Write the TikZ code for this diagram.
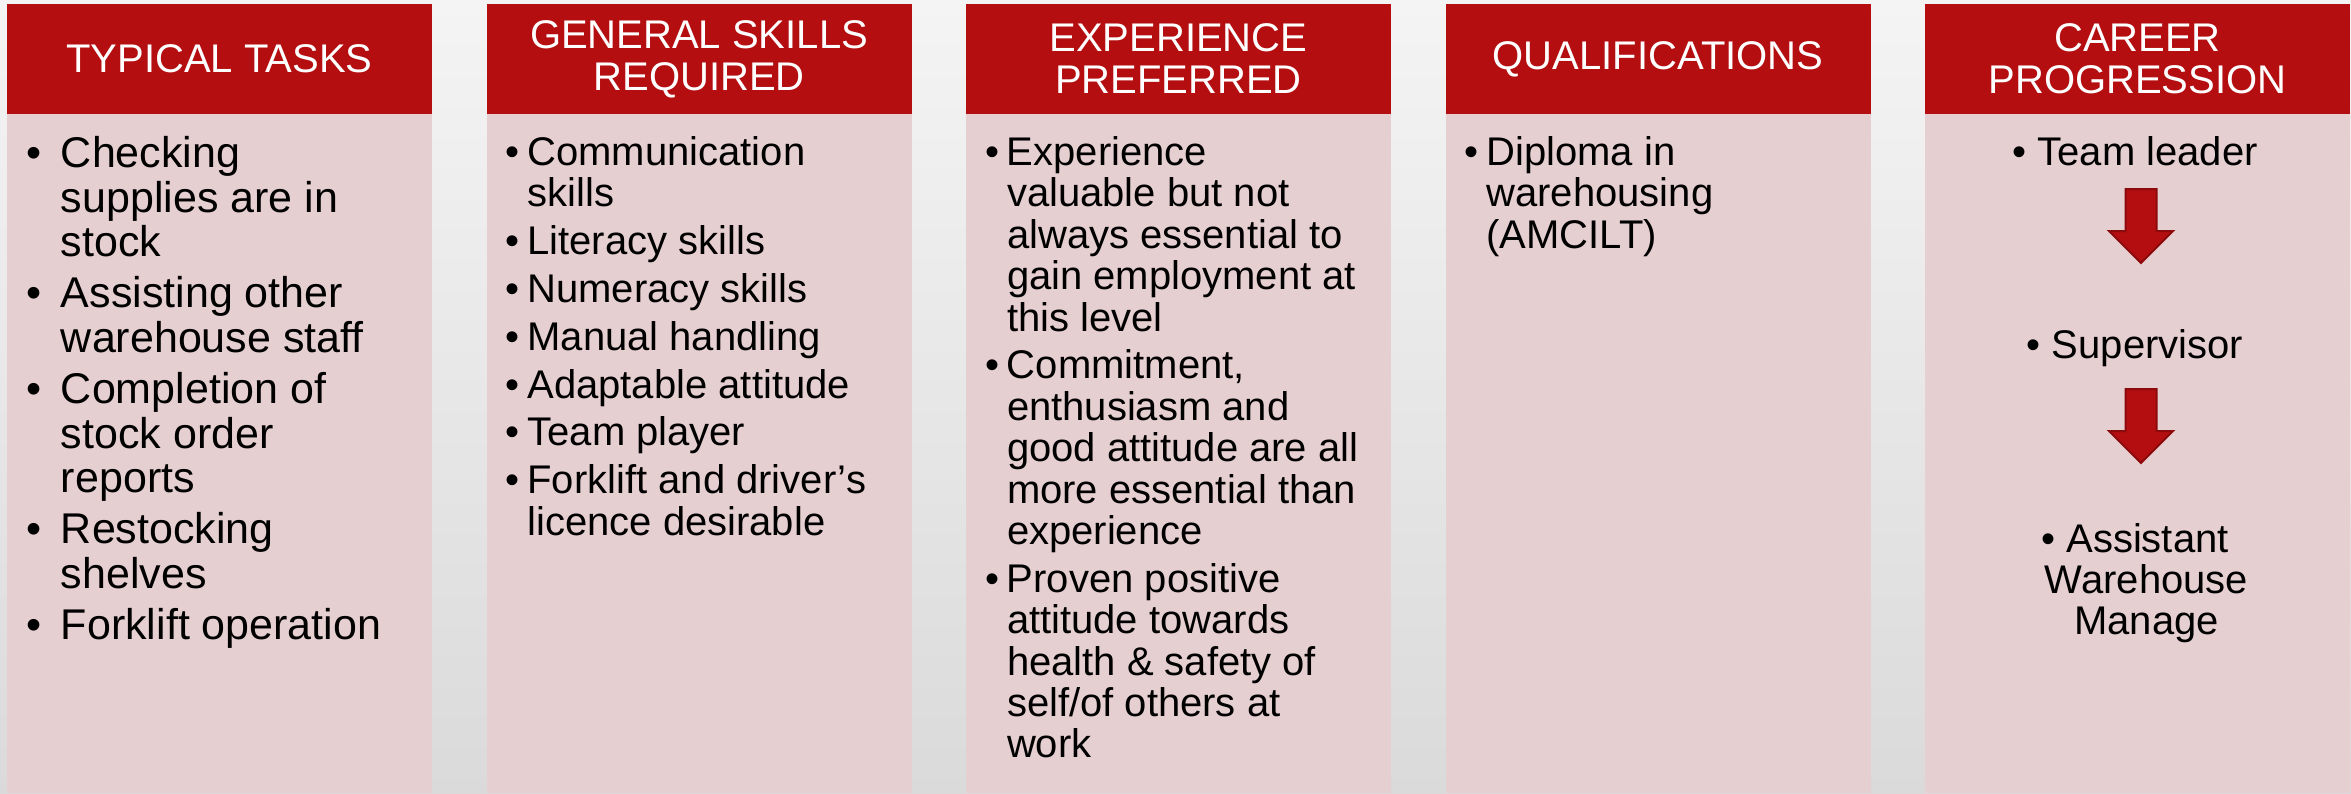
\documentclass[tikz,border=0pt]{standalone}
\usepackage{fontspec}
\setmainfont{Liberation Sans}
\usetikzlibrary{positioning}
\definecolor{hRed}{HTML}{B40E11}
\definecolor{aRed}{HTML}{8C0A0C}
\definecolor{bPink}{HTML}{E6CFD0}
\definecolor{bgTop}{HTML}{F4F4F4}
\definecolor{bgBot}{HTML}{DADADA}
\newcommand{\hdfont}{\fontsize{40}{42}\selectfont}
\newcommand{\txfont}{\fontsize{40}{41.4}\selectfont}
\newcommand{\bigtxfont}{\fontsize{43}{44.3}\selectfont}
\newcommand{\itembul}[1]{\makebox[#1][l]{\textbullet}}
\tikzset{
    hdr/.style={rectangle, fill=hRed, text=white, font=\hdfont, align=center,
        minimum width=425pt, minimum height=110pt, inner sep=0pt},
    bodybox/.style={rectangle, fill=bPink, minimum width=425pt, minimum height=679pt, inner sep=0pt},
    itemtxt/.style={inner sep=0pt, anchor=north west, font=\txfont},
    steptxt/.style={inner sep=0pt, font=\txfont},
    progarrow/.style={fill=hRed, draw=aRed, line width=2pt, line join=miter}
}

\begin{document}
\begin{tikzpicture}[x=1pt,y=-1pt]
\useasboundingbox (0,0) rectangle (2351,793);
\shade[top color=bgTop, bottom color=bgBot] (0,0) rectangle (2351,793);
% headers
\node[hdr] (h1) at (219.5,59) {TYPICAL TASKS};
\node[hdr] (h2) at (699,59) {GENERAL SKILLS\\REQUIRED};
\node[hdr] (h3) at (1178.5,59) {EXPERIENCE\\PREFERRED};
\node[hdr] (h4) at (1658,59) {QUALIFICATIONS};
\node[hdr] (h5) at (2137.5,59) {CAREER\\PROGRESSION};
% bodies
\node[bodybox, below=0pt of h1] (b1) {};
\node[bodybox, below=0pt of h2] (b2) {};
\node[bodybox, below=0pt of h3] (b3) {};
\node[bodybox, below=0pt of h4] (b4) {};
\node[bodybox, below=0pt of h5] (b5) {};
% lists
\node[itemtxt, font=\bigtxfont, below right=22pt and 19pt of b1.north west] (t1) {%
\begin{tabular}{@{}l@{}l@{}}
\itembul{35pt} & Checking\\
 & supplies are in\\
 & stock\\[6.9pt]
\itembul{35pt} & Assisting other\\
 & warehouse staff\\[6.9pt]
\itembul{35pt} & Completion of\\
 & stock order\\
 & reports\\[6.9pt]
\itembul{35pt} & Restocking\\
 & shelves\\[6.9pt]
\itembul{35pt} & Forklift operation
\end{tabular}};
\node[itemtxt, below right=22pt and 19pt of b2.north west] (t2) {%
\begin{tabular}{@{}l@{}l@{}}
\itembul{22pt} & Communication\\
 & skills\\[6.4pt]
\itembul{22pt} & Literacy skills\\[6.4pt]
\itembul{22pt} & Numeracy skills\\[6.4pt]
\itembul{22pt} & Manual handling\\[6.4pt]
\itembul{22pt} & Adaptable attitude\\[6.4pt]
\itembul{22pt} & Team player\\[6.4pt]
\itembul{22pt} & Forklift and driver’s\\
 & licence desirable
\end{tabular}};
\node[itemtxt, below right=22pt and 19pt of b3.north west] (t3) {%
\begin{tabular}{@{}l@{}l@{}}
\itembul{22pt} & Experience\\
 & valuable but not\\
 & always essential to\\
 & gain employment at\\
 & this level\\[6.4pt]
\itembul{22pt} & Commitment,\\
 & enthusiasm and\\
 & good attitude are all\\
 & more essential than\\
 & experience\\[6.4pt]
\itembul{22pt} & Proven positive\\
 & attitude towards\\
 & health \& safety of\\
 & self/of others at\\
 & work
\end{tabular}};
\node[itemtxt, below right=22pt and 19pt of b4.north west] (t4) {%
\begin{tabular}{@{}l@{}l@{}}
\itembul{22pt} & Diploma in\\
 & warehousing\\
 & (AMCILT)
\end{tabular}};
% career steps
\node[steptxt, anchor=base] (c1) at (2135,165) {\textbullet\ Team leader};
\node[steptxt, anchor=base] (c2) at (2135,358) {\textbullet\ Supervisor};
\node[steptxt, anchor=north] (c3) at (2135,523) {%
\begin{tabular}{@{}c@{}}
\textbullet\ Assistant\\
\hspace*{23pt}Warehouse\\
\hspace*{23pt}Manage
\end{tabular}};
\coordinate (a1) at (2141,189);
\coordinate (a2) at (2141,389);
\draw[progarrow, shift={(a1)}] (-15.5,0) -- (15.5,0) -- (15.5,42) -- (32,42) -- (0,74) -- (-32,42) -- (-15.5,42) -- cycle;
\draw[progarrow, shift={(a2)}] (-15.5,0) -- (15.5,0) -- (15.5,42) -- (32,42) -- (0,74) -- (-32,42) -- (-15.5,42) -- cycle;
\end{tikzpicture}
\end{document}
